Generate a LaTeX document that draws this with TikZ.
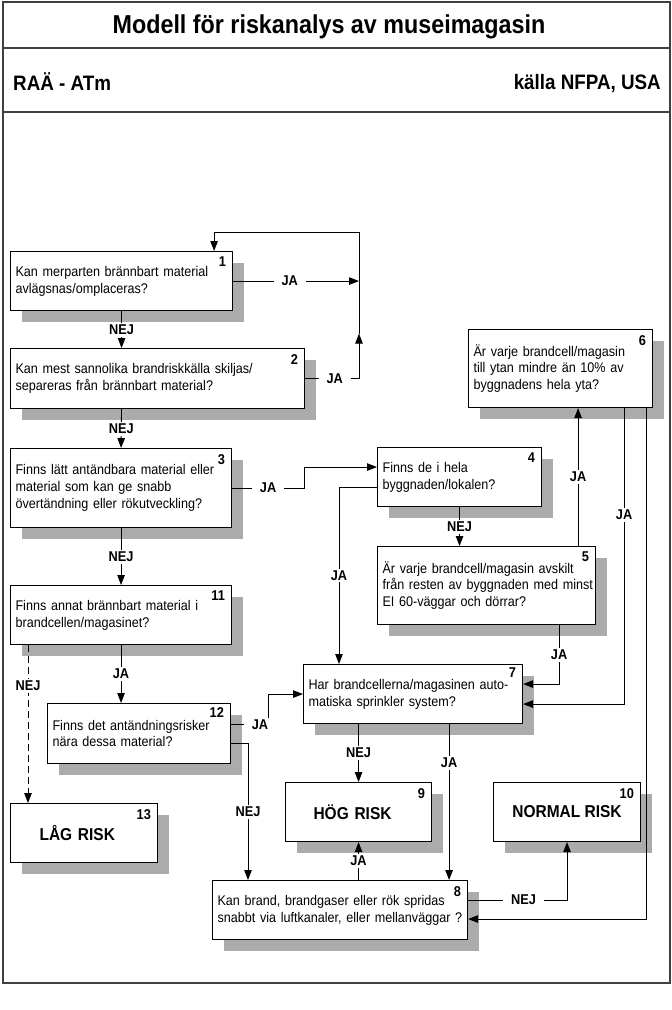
\documentclass[tikz,border=0pt]{standalone}
\usepackage{fontspec}
\setmainfont{Liberation Sans}[FakeStretch=0.9]
\usetikzlibrary{shadows,arrows.meta}

\begin{document}
\begin{tikzpicture}[x=1pt,y=-1pt]
\tikzstyle{ruta}=[draw=black, line width=1.1pt, fill=white, anchor=north west, align=left, inner xsep=5pt, inner ysep=0pt, font=\fontsize{14}{16.8}\selectfont, drop shadow={shadow xshift=11pt, shadow yshift=-11pt, fill=black!33, opacity=1}]
\tikzstyle{risk}=[ruta, align=center, font=\bfseries\fontsize{17.2}{19}\selectfont]
\tikzstyle{nr}=[anchor=north east, inner sep=0pt, font=\bfseries\fontsize{14.2}{15}\selectfont]
\tikzstyle{lbl}=[fill=white, inner xsep=8pt, inner ysep=2pt, font=\bfseries\fontsize{14.2}{15}\selectfont]
\tikzstyle{pil}=[line width=0.9pt, -{Triangle[length=10pt,width=7.5pt]}]
\tikzstyle{ram}=[line width=1.1pt, black!75]

\useasboundingbox (0,0) rectangle (672,1010);
\draw[ram] (3,2) rectangle (670,983);
\draw[ram] (3,48) -- (670,48);
\draw[ram] (3,112) -- (670,112);

\node[anchor=base, inner sep=0pt, font=\bfseries\fontsize{25.9}{28}\selectfont] (titel) at (329,33) {Modell för riskanalys av museimagasin};
\node[anchor=base west, inner sep=0pt, font=\bfseries\fontsize{20.9}{22}\selectfont] (raa) at (13,90) {RAÄ - ATm};
\node[anchor=base east, inner sep=0pt, font=\bfseries\fontsize{20.9}{22}\selectfont] (kalla) at (661,89) {källa NFPA, USA};

\node[ruta, minimum width=222pt, minimum height=59pt, text width=212pt] (b1) at (10,251) {Kan merparten brännbart material\\avlägsnas/omplaceras?};
\node[ruta, minimum width=294pt, minimum height=60pt, text width=284pt] (b2) at (10,348) {Kan mest sannolika brandriskkälla skiljas/\\separeras från brännbart material?};
\node[ruta, minimum width=221pt, minimum height=79pt, text width=211pt] (b3) at (10,448) {\mbox{Finns lätt antändbara material eller}\\material som kan ge snabb\\övertändning eller rökutveckling?};
\node[ruta, minimum width=221pt, minimum height=59pt, text width=211pt] (b11) at (10,585) {Finns annat brännbart material i\\brandcellen/magasinet?};
\node[ruta, minimum width=183pt, minimum height=60pt, text width=173pt] (b12) at (47,703) {Finns det antändningsrisker\\nära dessa material?};
\node[risk, align=left, inner xsep=29pt, minimum width=147pt, minimum height=59pt, text width=89pt] (b13) at (10,803) {LÅG RISK};
\node[ruta, minimum width=164pt, minimum height=59pt, text width=154pt] (b4) at (377,447) {Finns de i hela\\byggnaden/lokalen?};
\node[ruta, minimum width=218pt, minimum height=78pt, text width=208pt] (b5) at (377,546) {\mbox{Är varje brandcell/magasin avskilt}\\\mbox{från resten av byggnaden med minst}\\EI 60-väggar och dörrar?};
\node[ruta, minimum width=184pt, minimum height=78pt, text width=174pt] (b6) at (468,329) {Är varje brandcell/magasin\\till ytan mindre än 10\% av\\byggnadens hela yta?};
\node[ruta, minimum width=219pt, minimum height=59pt, text width=209pt] (b7) at (303,664) {\mbox{Har brandcellerna/magasinen auto-}\\matiska sprinkler system?};
\node[risk, align=left, inner xsep=28pt, minimum width=146pt, minimum height=59pt, text width=90pt] (b9) at (285,782) {HÖG RISK};
\node[risk, minimum width=147pt, minimum height=59pt] (b10) at (493,782) {NORMAL RISK};
\node[ruta, minimum width=255pt, minimum height=59pt, text width=245pt] (b8) at (212,880) {\mbox{Kan brand, brandgaser eller rök spridas}\\\mbox{snabbt via luftkanaler, eller mellanväggar ?}};

\node[nr] (n1) at ([xshift=-7pt,yshift=-6pt]b1.north east) {1};
\node[nr] (n2) at ([xshift=-7pt,yshift=-6pt]b2.north east) {2};
\node[nr] (n3) at ([xshift=-7pt,yshift=-6pt]b3.north east) {3};
\node[nr] (n4) at ([xshift=-7pt,yshift=-6pt]b4.north east) {4};
\node[nr] (n5) at ([xshift=-7pt,yshift=-6pt]b5.north east) {5};
\node[nr] (n6) at ([xshift=-7pt,yshift=-6pt]b6.north east) {6};
\node[nr] (n7) at ([xshift=-7pt,yshift=-4pt]b7.north east) {7};
\node[nr] (n8) at ([xshift=-7pt,yshift=-6pt]b8.north east) {8};
\node[nr] (n9) at ([xshift=-7pt,yshift=-6pt]b9.north east) {9};
\node[nr] (n10) at ([xshift=-7pt,yshift=-6pt]b10.north east) {10};
\node[nr] (n11) at ([xshift=-7pt,yshift=-6pt]b11.north east) {11};
\node[nr] (n12) at ([xshift=-7pt,yshift=-4pt]b12.north east) {12};
\node[nr] (n13) at ([xshift=-7pt,yshift=-6pt]b13.north east) {13};

\coordinate (hj) at (359,232);
\draw[pil] (b1.east) -- node[lbl,pos=0.45] {JA} (b1.east -| hj);
\draw[pil] (b2.east) -- node[lbl,pos=0.55] {JA} (b2.east -| hj) -- ++(0,-45);
\draw[pil] (b2.east -| hj) ++(0,-45) -- (hj) -| ([xshift=-19pt]b1.north east);
\draw[pil] (b1.south) -- node[lbl] {NEJ} (b1.south |- b2.north);
\draw[pil] (b1.south |- b2.south) -- node[lbl] {NEJ} (b3.north);
\draw[pil] (b3.south) -- node[lbl] {NEJ} (b11.north);
\draw[pil] (b11.south) -- node[lbl] {JA} (b11.south |- b12.north);
\draw[pil, dash pattern=on 7pt off 4pt] ([xshift=18pt]b11.south west) -- node[lbl,pos=0.26] {NEJ} ([xshift=18pt]b11.south west |- b13.north);
\draw[pil] (b3.east) -- node[lbl] {JA} ++(72,0) |- ([yshift=10pt]b4.west);
\draw[pil] ([yshift=-10pt]b4.west) -| node[lbl,pos=0.75] {JA} ([xshift=36pt]b7.north west);
\draw[pil] (b4.south) -- node[lbl] {NEJ} (b4.south |- b5.north);
\draw[pil] ([xshift=-18pt]b5.north east) -- node[lbl] {JA} ([xshift=-18pt]b5.north east |- b6.south);
\draw[pil] ([xshift=-37pt]b5.south east) |- node[lbl,pos=0.25] {JA} ([yshift=10pt]b7.east);
\draw[pil] ([xshift=-29pt]b6.south east) |- node[lbl,pos=0.18] {JA} ([yshift=-10pt]b7.east);
\draw[pil] ([xshift=-7pt]b6.south east) |- ([yshift=-9pt]b8.east);
\draw[pil] ([yshift=9pt]b12.east) -- node[lbl,pos=0.78] {JA} ++(37,0) |- (b7.west);
\draw[pil] ([yshift=-10pt]b12.east) -| node[lbl,pos=0.75] {NEJ} ([xshift=36pt]b8.north west);
\draw[pil] (b9.north |- b7.south) -- node[lbl] {NEJ} (b9.north);
\draw[pil] ([xshift=-74pt]b7.south east) -- node[lbl,pos=0.25] {JA} ([xshift=-74pt]b7.south east |- b8.north);
\draw[pil] (b9.south |- b8.north) -- node[lbl] {JA} (b9.south);
\draw[pil] ([yshift=10pt]b8.east) -| node[lbl,pos=0.28] {NEJ} (b10.south);
\end{tikzpicture}
\end{document}
